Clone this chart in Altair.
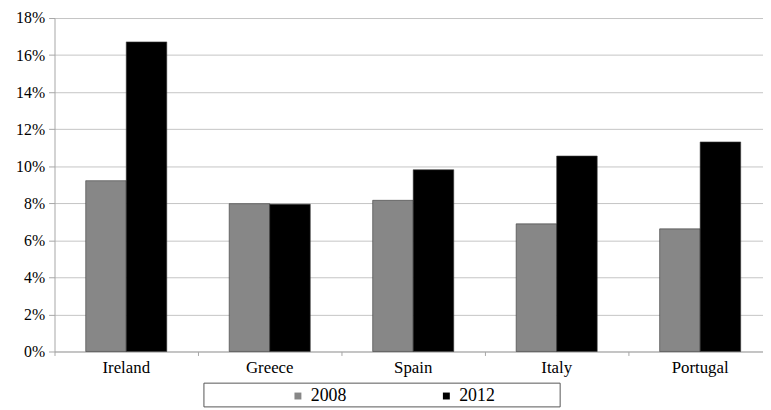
import altair as alt
import pandas as pd

countries = ["Ireland", "Greece", "Spain", "Italy", "Portugal"]
v2008 = [0.0922, 0.0798, 0.0816, 0.0689, 0.0662]
v2012 = [0.1671, 0.0795, 0.0981, 0.1055, 0.1131]
years = ["2008", "2012"]
y_ticks = [0, 0.02, 0.04, 0.06, 0.08, 0.10, 0.12, 0.14, 0.16, 0.18]

rows = []
for c, a, b in zip(countries, v2008, v2012):
    rows.append({"country": c, "year": years[0], "value": a})
    rows.append({"country": c, "year": years[1], "value": b})
df = pd.DataFrame(rows)

FONT = "Liberation Serif"
AX = "#a6a6a6"
TXT = "#000000"

bars = alt.Chart(df).mark_bar(stroke="#3a3a3a", strokeWidth=0.6).encode(
    x=alt.X("country:N", sort=countries,
            scale=alt.Scale(paddingInner=0, paddingOuter=0, range=[0, 725]),
            axis=alt.Axis(title=None, labelAngle=0, bandPosition=0, grid=False,
                          domainColor=AX, tickColor=AX, tickSize=4,
                          labelFont=FONT, labelFontSize=17,
                          labelColor=TXT, labelPadding=4)),
    xOffset=alt.XOffset("year:N", sort=years,
                        scale=alt.Scale(paddingInner=0, paddingOuter=0.77)),
    y=alt.Y("value:Q", scale=alt.Scale(domain=[0, 0.18], nice=False),
            axis=alt.Axis(title=None, values=y_ticks, format=".0%",
                          gridColor="#c4c4c4", domainColor=AX, tickColor=AX,
                          tickSize=6, labelPadding=4, labelFont=FONT,
                          labelFontSize=16, labelColor=TXT)),
    color=alt.Color("year:N", sort=years,
                    scale=alt.Scale(domain=years, range=["#878787", "#000000"]),
                    legend=alt.Legend(title=None, orient="none", direction="horizontal",
                                      legendX=237, legendY=373, symbolType="square",
                                      symbolSize=49, symbolStrokeWidth=0,
                                      labelFont=FONT, labelFontSize=18,
                                      labelColor=TXT, labelOffset=4,
                                      columnPadding=92, padding=0)),
)

frame = alt.Chart(pd.DataFrame({"k": [0]})).mark_rect(
    fill="white", fillOpacity=0, stroke="#555555", strokeWidth=1
).encode(
    x=alt.value(151), x2=alt.value(511), y=alt.value(369), y2=alt.value(393)
)

chart = alt.layer(frame, bars).properties(
    width=716, height=337,
    autosize=alt.AutoSizeParams(type="none"),
    padding={"left": 47, "top": 8, "right": 0, "bottom": 57},
).configure_view(stroke=None).configure_axis(labelFont=FONT).configure_legend(labelFont=FONT)

chart.save("out.html", embed_options={"renderer": "svg", "actions": False})
